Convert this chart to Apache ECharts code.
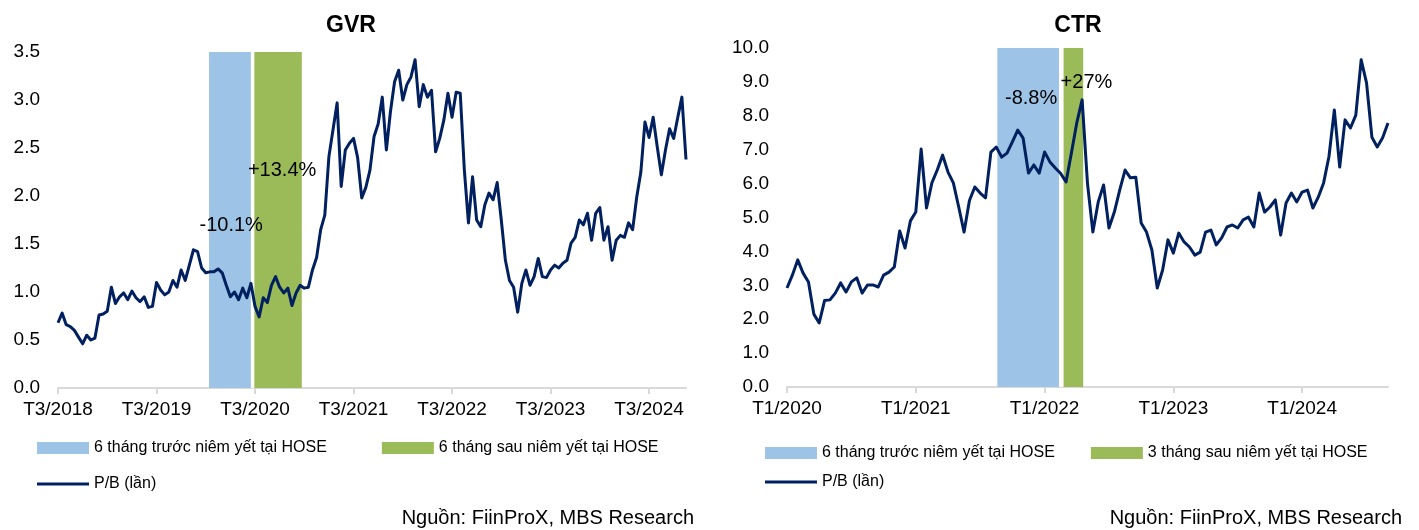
<!DOCTYPE html>
<html><head><meta charset="utf-8">
<script src="https://cdn.jsdelivr.net/npm/echarts@6/dist/echarts.min.js"></script>
<style>html,body{margin:0;padding:0;background:#fff}#c{width:1419px;height:530px}</style>
</head><body><div id="c"></div>
<script>
// ---- DATA ----
// x values are months since the first tick (half-month sampling)
const gvrTickLabels = ['T3/2018','T3/2019','T3/2020','T3/2021','T3/2022','T3/2023','T3/2024'];
const ctrTickLabels = ['T1/2020','T1/2021','T1/2022','T1/2023','T1/2024'];
const STEP = 0.5; // months between samples
const gvrPB = [0.68,0.78,0.66,0.64,0.60,0.53,0.46,0.55,0.50,0.52,0.76,0.77,0.80,1.05,0.88,0.95,0.99,0.92,1.01,0.94,
  0.90,0.95,0.84,0.85,1.10,1.02,0.97,1.00,1.12,1.05,1.23,1.12,1.28,1.44,1.42,1.25,1.20,1.21,1.21,1.24,
  1.20,1.07,0.95,1.00,0.92,1.04,0.94,1.09,0.85,0.74,0.94,0.89,1.07,1.16,1.05,0.99,1.04,0.86,0.99,1.07,
  1.04,1.05,1.23,1.36,1.65,1.80,2.41,2.69,2.97,2.10,2.48,2.55,2.60,2.40,1.98,2.09,2.27,2.62,2.75,3.03,
  2.48,2.88,3.19,3.31,3.00,3.16,3.24,3.42,2.93,3.16,3.03,3.10,2.46,2.60,2.79,3.07,2.82,3.08,3.07,2.27,
  1.72,2.20,1.75,1.68,1.91,2.03,1.96,2.14,1.75,1.33,1.12,1.05,0.79,1.09,1.23,1.07,1.16,1.35,1.16,1.15,
  1.23,1.28,1.25,1.30,1.33,1.51,1.57,1.75,1.70,1.82,1.54,1.82,1.88,1.54,1.68,1.33,1.54,1.59,1.57,1.72,
  1.65,1.99,2.25,2.77,2.61,2.82,2.51,2.22,2.48,2.70,2.60,2.82,3.03,2.38];
const ctrPB = [2.92,3.30,3.75,3.36,3.10,2.15,1.89,2.55,2.57,2.77,3.07,2.80,3.10,3.22,2.77,3.01,3.01,2.95,3.30,3.39,
  3.54,4.60,4.10,4.90,5.16,7.02,5.28,6.02,6.40,6.84,6.34,6.02,5.31,4.57,5.50,5.90,5.72,5.58,6.93,7.08,
  6.78,6.90,7.23,7.58,7.34,6.31,6.55,6.31,6.93,6.64,6.46,6.30,6.05,6.90,7.79,8.47,6.00,4.57,5.46,5.96,
  4.69,5.16,5.81,6.40,6.17,6.19,4.84,4.57,4.04,2.92,3.45,4.34,3.95,4.54,4.28,4.13,3.89,3.98,4.57,4.63,
  4.19,4.40,4.72,4.78,4.69,4.93,5.01,4.72,5.72,5.16,5.31,5.52,4.48,5.43,5.72,5.46,5.75,5.81,5.28,5.60,
  6.02,6.80,8.17,6.49,7.88,7.64,8.02,9.65,8.97,7.37,7.08,7.35,7.79];
// listing windows, in months since first tick
const gvrBefore = [18.4, 23.5];
const gvrAfter  = [23.9, 29.7];
const ctrBefore = [19.6, 25.35];
const ctrAfter  = [25.75, 27.6];
const gvrNotes = ['-10.1%', '+13.4%'];
const ctrNotes = ['-8.8%', '+27%'];
const NAME_BEFORE = '6 tháng trước niêm yết tại HOSE';
const NAME_AFTER_GVR = '6 tháng sau niêm yết tại HOSE';
const NAME_AFTER_CTR = '3 tháng sau niêm yết tại HOSE';
const NAME_PB = 'P/B (lần)';

// ---- CHART ----
const FONT = '"Liberation Sans", Arial, sans-serif';
const BLUE = '#9DC3E6', GREEN = '#9BBB59', NAVY = '#002060', AXIS = '#D9D9D9';
const chart = echarts.init(document.getElementById('c'), null, {renderer: 'canvas'});

function xAxisFor(gi, labels, max) {
  const vals = labels.map((_, i) => i * 12);
  return {
    type: 'value', gridIndex: gi, min: 0, max: max, interval: 12,
    axisLine: {show: true, lineStyle: {color: AXIS, width: 2}},
    axisTick: {show: true, length: 6, lineStyle: {color: AXIS, width: 2}, customValues: vals},
    axisLabel: {color: '#000', fontSize: 19, fontFamily: FONT, margin: 12, customValues: vals,
      formatter: v => { const k = Math.round(v / 12); return (Math.abs(v - k * 12) < 1e-6 && labels[k]) ? labels[k] : ''; }},
    splitLine: {show: false}
  };
}
function yAxisFor(gi, max, interval) {
  return {
    type: 'value', gridIndex: gi, min: 0, max: max, interval: interval,
    axisLine: {show: false}, axisTick: {show: false}, splitLine: {show: false},
    axisLabel: {color: '#000', fontSize: 19, fontFamily: FONT, margin: 18, formatter: v => v.toFixed(1)}
  };
}
function bandSeries(gi, name, color, range) {
  return {
    type: 'line', name: name, xAxisIndex: gi, yAxisIndex: gi, data: [], z: 1,
    color: color, itemStyle: {color: color}, lineStyle: {color: color},
    markArea: {silent: true, itemStyle: {color: color, opacity: 1}, data: [[{xAxis: range[0]}, {xAxis: range[1]}]]}
  };
}
function gapSeries(gi, from, to) {
  return {
    type: 'line', xAxisIndex: gi, yAxisIndex: gi, data: [], z: 5, silent: true,
    markArea: {silent: true, itemStyle: {color: '#fff', opacity: 1}, data: [[{xAxis: from}, {xAxis: to}]]}
  };
}
function noteData(texts, coords) {
  return texts.map((t, i) => ({coord: coords[i], value: t,
    label: {show: true, formatter: t, position: 'inside', color: '#000', fontSize: 20, fontFamily: FONT}}));
}
function pbSeries(gi, vals, notes, coords) {
  return {
    type: 'line', name: NAME_PB, xAxisIndex: gi, yAxisIndex: gi, z: 3,
    data: vals.map((v, i) => [i * STEP, v]),
    showSymbol: false, symbol: 'none', color: NAVY,
    lineStyle: {color: NAVY, width: 3, join: 'round'},
    itemStyle: {color: NAVY},
    animation: false,
    markPoint: {symbol: 'rect', symbolSize: 1, itemStyle: {color: 'rgba(0,0,0,0)'}, silent: true,
      data: noteData(notes, coords)}
  };
}

const legendText = {color: '#000', fontSize: 16, fontFamily: FONT};
chart.setOption({
  animation: false,
  backgroundColor: '#fff',
  grid: [
    {left: 58, top: 52, width: 628, height: 336},
    {left: 787, top: 48, width: 601, height: 339}
  ],
  xAxis: [xAxisFor(0, gvrTickLabels, 76.5), xAxisFor(1, ctrTickLabels, 56)],
  yAxis: [yAxisFor(0, 3.5, 0.5), yAxisFor(1, 10, 1)],
  legend: [
    {data: [NAME_BEFORE, NAME_AFTER_GVR], left: 32, top: 435, icon: 'rect', itemWidth: 52, itemHeight: 12, itemGap: 55, textStyle: legendText, selectedMode: false},
    {data: [NAME_PB], left: 32, top: 471, icon: 'rect', itemWidth: 52, itemHeight: 3, textStyle: legendText, selectedMode: false},
    {data: [NAME_BEFORE, NAME_AFTER_CTR], left: 760, top: 440, icon: 'rect', itemWidth: 52, itemHeight: 12, itemGap: 36, textStyle: legendText, selectedMode: false},
    {data: [NAME_PB], left: 760, top: 469, icon: 'rect', itemWidth: 52, itemHeight: 3, textStyle: legendText, selectedMode: false}
  ],
  graphic: [
    {type: 'text', x: 351, y: 26, style: {text: 'GVR', font: 'bold 23px ' + FONT, fill: '#000', textAlign: 'center', textVerticalAlign: 'middle'}},
    {type: 'text', x: 1078, y: 26, style: {text: 'CTR', font: 'bold 23px ' + FONT, fill: '#000', textAlign: 'center', textVerticalAlign: 'middle'}},
    {type: 'text', x: 694, y: 518, style: {text: 'Nguồn: FiinProX, MBS Research', font: '20px ' + FONT, fill: '#000', textAlign: 'right', textVerticalAlign: 'middle'}},
    {type: 'text', x: 1402, y: 518, style: {text: 'Nguồn: FiinProX, MBS Research', font: '20px ' + FONT, fill: '#000', textAlign: 'right', textVerticalAlign: 'middle'}}
  ],
  series: [
    bandSeries(0, NAME_BEFORE, BLUE, gvrBefore),
    bandSeries(0, NAME_AFTER_GVR, GREEN, gvrAfter),
    pbSeries(0, gvrPB, gvrNotes, [[21.1, 1.69], [27.3, 2.27]]),
    gapSeries(0, gvrBefore[1], gvrAfter[0]),
    bandSeries(1, NAME_BEFORE, BLUE, ctrBefore),
    bandSeries(1, NAME_AFTER_CTR, GREEN, ctrAfter),
    pbSeries(1, ctrPB, ctrNotes, [[22.75, 8.52], [27.9, 8.97]]),
    gapSeries(1, ctrBefore[1], ctrAfter[0])
  ]
});
</script></body></html>
